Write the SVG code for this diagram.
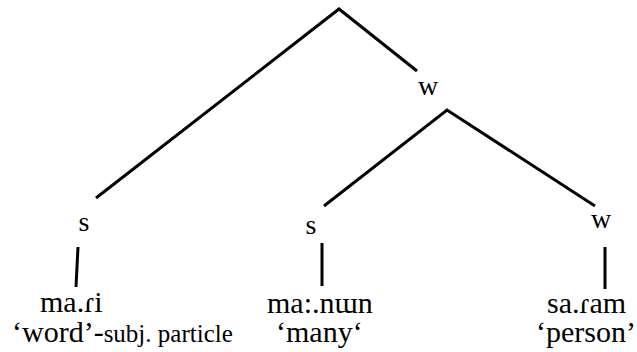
<svg xmlns="http://www.w3.org/2000/svg" width="637" height="352" viewBox="0 0 637 352">
<style>
.ln{stroke:#000;stroke-width:3;fill:none;stroke-linecap:butt}
</style>
<rect width="637" height="352" fill="#fff"/>
<g id="connectors">
<polyline class="ln" points="96,198 339,9 417,71"/>
<polyline class="ln" points="324,206 447,110 595,206"/>
<line class="ln" x1="78" y1="247" x2="76" y2="287"/>
<line class="ln" x1="322" y1="243" x2="322" y2="286"/>
<line class="ln" x1="605" y1="247" x2="605" y2="289"/>
</g>
<g font-family="Liberation Serif" font-size="28" fill="#000">
<g id="w-top"><text text-anchor="middle" x="428" y="95">w</text></g>
<g id="s-left"><text text-anchor="middle" x="84" y="231">s</text></g>
<g id="s-mid"><text text-anchor="middle" x="311" y="234">s</text></g>
<g id="w-right"><text text-anchor="middle" x="601" y="228">w</text></g>
<g id="word1" font-size="30">
<text x="40" y="312">ma.ɾi</text>
<text x="12" y="342">‘word’-<tspan font-size="25">subj. particle</tspan></text>
</g>
<g id="word2" font-size="30">
<text x="267" y="313">ma:.nɯn</text>
<text x="276" y="342">‘many‘</text>
</g>
<g id="word3" font-size="30">
<text x="547" y="313">sa.ɾam</text>
<text x="536" y="342">‘person’</text>
</g>
</g>
</svg>
